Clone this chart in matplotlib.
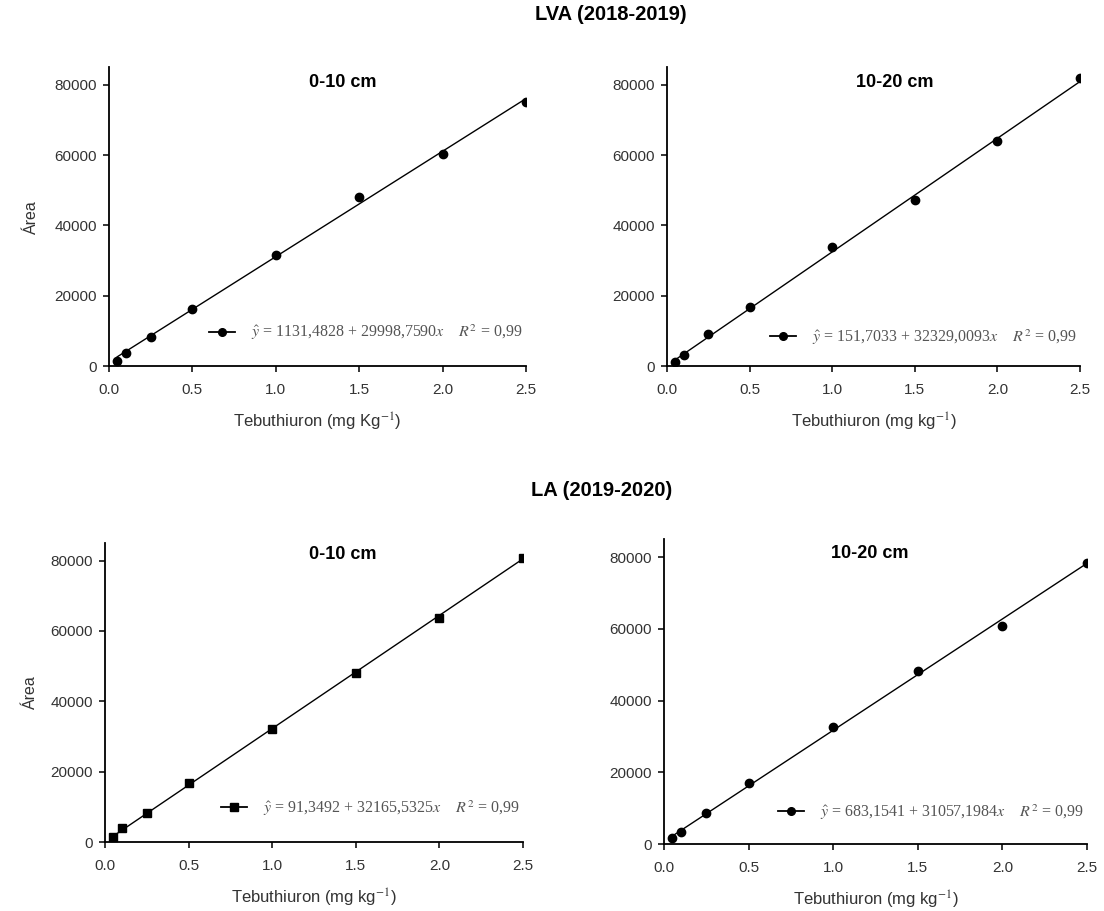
import matplotlib
matplotlib.use("Agg")
import matplotlib.pyplot as plt
from matplotlib.lines import Line2D
import numpy as np

plt.rcParams["font.family"] = ["Liberation Sans", "DejaVu Sans"]
plt.rcParams["mathtext.fontset"] = "stix"

# Tebuthiuron concentrations (mg kg-1)
conc = [0.05, 0.1, 0.25, 0.5, 1.0, 1.5, 2.0, 2.5]

# Peak areas per soil / depth
area_lva_0_10 = [1420, 3790, 8170, 16140, 31600, 48110, 60270, 75070]
area_lva_10_20 = [1230, 3230, 9020, 16890, 33970, 47260, 63960, 81900]
area_la_0_10 = [1420, 3860, 8240, 16760, 32190, 48100, 63720, 80770]
area_la_10_20 = [1770, 3260, 8560, 16930, 32560, 48360, 60920, 78500]

# Fitted calibration lines (intercept, slope) and labels
fit_lva_0_10 = (1131.4828, 29998.7590)
fit_lva_10_20 = (151.7033, 32329.0093)
fit_la_0_10 = (91.3492, 32165.5325)
fit_la_10_20 = (683.1541, 31057.1984)

eq_lva_0_10 = r"$\hat{y}$ = 1131,4828 + 29998,7590$x$    $R^2$ = 0,99"
eq_lva_10_20 = r"$\hat{y}$ = 151,7033 + 32329,0093$x$    $R^2$ = 0,99"
eq_la_0_10 = r"$\hat{y}$ = 91,3492 + 32165,5325$x$    $R^2$ = 0,99"
eq_la_10_20 = r"$\hat{y}$ = 683,1541 + 31057,1984$x$    $R^2$ = 0,99"

depth_labels = ["0-10 cm", "10-20 cm", "0-10 cm", "10-20 cm"]
xlabels = [r"Tebuthiuron (mg Kg$^{-1}$)", r"Tebuthiuron (mg kg$^{-1}$)",
           r"Tebuthiuron (mg kg$^{-1}$)", r"Tebuthiuron (mg kg$^{-1}$)"]
group_titles = ["LVA (2018-2019)", "LA (2019-2020)"]

xticks = [0.0, 0.5, 1.0, 1.5, 2.0, 2.5]
yticks = [0, 20000, 40000, 60000, 80000]

W, H = 1104, 911
fig = plt.figure(figsize=(W / 100, H / 100), dpi=100)


def px_axes(left, right, bottom, top):
    return fig.add_axes([left / W, (H - bottom) / H, (right - left) / W, (bottom - top) / H])


panels = [
    dict(ax=px_axes(109, 526, 366, 67.4), y=area_lva_0_10, fit=fit_lva_0_10, eq=eq_lva_0_10,
         marker="o", title_pos=(0.561, 0.951), leg=0.112, ylabel=True, ylx=-0.168),
    dict(ax=px_axes(667, 1080, 366, 67.4), y=area_lva_10_20, fit=fit_lva_10_20, eq=eq_lva_10_20,
         marker="o", title_pos=(0.552, 0.951), leg=0.097, ylabel=False, ylx=None),
    dict(ax=px_axes(105, 523, 842, 543), y=area_la_0_10, fit=fit_la_0_10, eq=eq_la_0_10,
         marker="s", title_pos=(0.569, 0.963), leg=0.114, ylabel=True, ylx=-0.160),
    dict(ax=px_axes(664, 1087, 844, 539.4), y=area_la_10_20, fit=fit_la_10_20, eq=eq_la_10_20,
         marker="o", title_pos=(0.486, 0.955), leg=0.105, ylabel=False, ylx=None),
]

tick_color = "#333333"
for i, p in enumerate(panels):
    ax = p["ax"]
    x = np.array(conc)
    b0, b1 = p["fit"]
    ax.plot(x, b0 + b1 * x, color="black", lw=1.0, zorder=2)
    ax.plot(x, p["y"], linestyle="none", marker=p["marker"], ms=6, color="black", zorder=3)

    ax.set_xlim(0, 2.5)
    ax.set_ylim(0, 85000)
    ax.set_xticks(xticks)
    ax.set_xticklabels([f"{v:.1f}" for v in xticks])
    ax.set_yticks(yticks)
    ax.set_yticklabels([str(v) for v in yticks])
    for s in ("top", "right"):
        ax.spines[s].set_visible(False)
    for s in ("left", "bottom"):
        ax.spines[s].set_linewidth(1.3)
    ax.tick_params(axis="both", direction="out", length=4.5, width=1.1,
                   labelsize=11, labelcolor=tick_color)
    ax.tick_params(axis="x", pad=8)
    ax.tick_params(axis="y", pad=4)

    ax.set_xlabel(xlabels[i], fontsize=12, color=tick_color, labelpad=10)
    if p["ylabel"]:
        ax.set_ylabel("Área", fontsize=11.5, color=tick_color)
        ax.yaxis.set_label_coords(p["ylx"], 0.5)

    ax.text(p["title_pos"][0], p["title_pos"][1], depth_labels[i], transform=ax.transAxes,
            ha="center", va="center", fontsize=13, fontweight="bold")

    handle = Line2D([0], [0], color="black", lw=1.3, marker=p["marker"], ms=5.5)
    ax.legend([handle], [p["eq"]], loc="center right", bbox_to_anchor=(1.01, p["leg"]),
              frameon=False, prop={"family": "Liberation Serif", "size": 11.5},
              handlelength=1.6, handletextpad=1.0, borderpad=0, labelcolor="#555555")

fig.text(611 / W, 1 - 15 / H, group_titles[0], ha="center", va="center",
         fontsize=14.5, fontweight="bold")
fig.text(602 / W, 1 - 491 / H, group_titles[1], ha="center", va="center",
         fontsize=14.5, fontweight="bold")

fig.savefig("out.png", dpi=100, facecolor="white")
